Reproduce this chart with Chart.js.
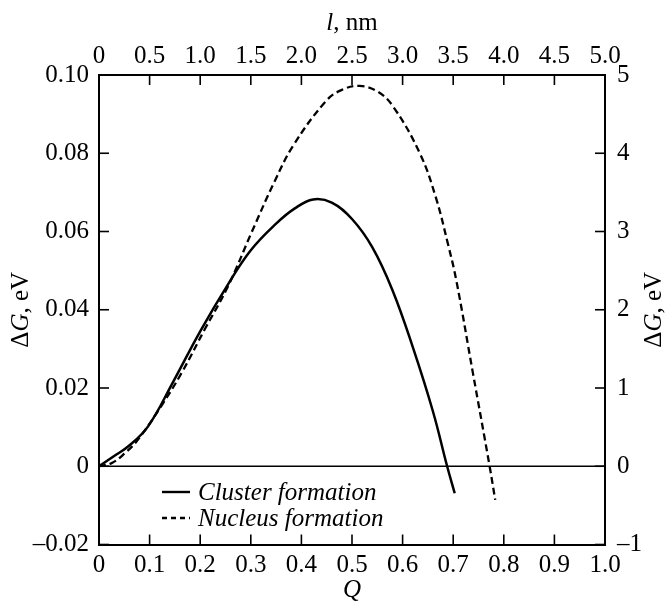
<!DOCTYPE html>
<html>
<head>
<meta charset="utf-8">
<script src="https://cdn.jsdelivr.net/npm/chart.js@4/dist/chart.umd.min.js"></script>
<style>
  html, body { margin: 0; padding: 0; background: #fff; }
  #wrap { width: 672px; height: 610px; position: relative; }
</style>
</head>
<body>
<div id="wrap"><canvas id="c"></canvas></div>
<script>
// ---- data ----
const clusterQ = [0, 0.03, 0.058, 0.097, 0.145, 0.20, 0.255, 0.30, 0.35, 0.387, 0.423, 0.46, 0.50, 0.54, 0.58, 0.62, 0.66, 0.688, 0.703];
const clusterG = [0, 0.0026, 0.0051, 0.0102, 0.0212, 0.0345, 0.0465, 0.0552, 0.0620, 0.0659, 0.0682, 0.0674, 0.0632, 0.0560, 0.0450, 0.0305, 0.0140, 0.0, -0.0069];
const nucleusQ = [0, 0.025, 0.05, 0.077, 0.123, 0.163, 0.209, 0.255, 0.301, 0.347, 0.384, 0.449, 0.48, 0.515, 0.55, 0.581, 0.634, 0.665, 0.69, 0.706, 0.739, 0.772, 0.783];
const nucleusG = [0, 0.04, 0.16, 0.34, 0.77, 1.19, 1.75, 2.30, 2.98, 3.64, 4.10, 4.67, 4.81, 4.86, 4.79, 4.60, 4.00, 3.45, 2.83, 2.38, 1.19, 0, -0.43];
const seriesLabels = ['Cluster formation', 'Nucleus formation'];
const qTickLabels = ['0', '0.1', '0.2', '0.3', '0.4', '0.5', '0.6', '0.7', '0.8', '0.9', '1.0'];
const lTickLabels = ['0', '0.5', '1.0', '1.5', '2.0', '2.5', '3.0', '3.5', '4.0', '4.5', '5.0'];
const gLeftTickLabels = ['\u20130.02', '0', '0.02', '0.04', '0.06', '0.08', '0.10'];
const gRightTickLabels = ['\u20131', '0', '1', '2', '3', '4', '5'];

const FONT = "'Liberation Serif', 'Times New Roman', serif";
Chart.defaults.font.family = FONT;
Chart.defaults.font.size = 25;
Chart.defaults.color = '#000';

function pts(xs, ys) { return xs.map((x, i) => ({ x: x, y: ys[i] })); }

function drawSegments(ctx, segs, cx, cy, size) {
  let total = 0;
  segs.forEach(s => {
    ctx.font = (s.i ? 'italic ' : '') + size + 'px ' + FONT;
    s.w = ctx.measureText(s.t).width; total += s.w;
  });
  let x = cx - total / 2;
  ctx.textAlign = 'left'; ctx.textBaseline = 'middle';
  segs.forEach(s => {
    ctx.font = (s.i ? 'italic ' : '') + size + 'px ' + FONT;
    ctx.fillText(s.t, x, cy); x += s.w;
  });
}

const decor = {
  id: 'decor',
  beforeDatasetsDraw(chart) {
    const ctx = chart.ctx, a = chart.chartArea;
    const y = chart.scales.y;
    ctx.save();
    ctx.strokeStyle = '#000'; ctx.lineWidth = 1.3;
    const y0 = y.getPixelForValue(0);
    ctx.beginPath(); ctx.moveTo(a.left, y0); ctx.lineTo(a.right, y0); ctx.stroke();
    // inward ticks
    const L = 10;
    ctx.lineWidth = 1.6;
    const sc = chart.scales;
    sc.x.ticks.forEach((t, i) => { const p = sc.x.getPixelForTick(i); ctx.beginPath(); ctx.moveTo(p, a.bottom); ctx.lineTo(p, a.bottom - L); ctx.stroke(); });
    sc.xTop.ticks.forEach((t, i) => { const p = sc.xTop.getPixelForTick(i); ctx.beginPath(); ctx.moveTo(p, a.top); ctx.lineTo(p, a.top + L); ctx.stroke(); });
    sc.y.ticks.forEach((t, i) => { const p = sc.y.getPixelForTick(i); ctx.beginPath(); ctx.moveTo(a.left, p); ctx.lineTo(a.left + L, p); ctx.stroke(); });
    sc.y2.ticks.forEach((t, i) => { const p = sc.y2.getPixelForTick(i); ctx.beginPath(); ctx.moveTo(a.right, p); ctx.lineTo(a.right - L, p); ctx.stroke(); });
    ctx.restore();
  },
  afterDraw(chart) {
    const ctx = chart.ctx, a = chart.chartArea;
    ctx.save();
    ctx.fillStyle = '#000';
    const cx = (a.left + a.right) / 2, cy = (a.top + a.bottom) / 2;
    drawSegments(ctx, [{ t: 'l', i: true }, { t: ', nm', i: false }], cx, 23, 25);
    drawSegments(ctx, [{ t: 'Q', i: true }], cx, 590, 25);
    const gSegs = () => [{ t: '\u0394', i: false }, { t: 'G', i: true }, { t: ', eV', i: false }];
    ctx.save(); ctx.translate(21, cy); ctx.rotate(-Math.PI / 2); drawSegments(ctx, gSegs(), 0, 0, 25); ctx.restore();
    ctx.save(); ctx.translate(654, cy); ctx.rotate(-Math.PI / 2); drawSegments(ctx, gSegs(), 0, 0, 25); ctx.restore();
    // legend
    const lx0 = a.left + 63, lx1 = a.left + 91, tx = a.left + 99;
    const rows = [{ y: 492, dash: [] }, { y: 518, dash: [5, 4] }];
    chart.data.datasets.forEach((ds, i) => {
      const r = rows[i];
      ctx.setLineDash(r.dash); ctx.lineWidth = 2.4; ctx.strokeStyle = '#000';
      ctx.beginPath(); ctx.moveTo(lx0, r.y); ctx.lineTo(lx1, r.y); ctx.stroke();
      ctx.setLineDash([]);
      ctx.font = 'italic 25px ' + FONT; ctx.textAlign = 'left'; ctx.textBaseline = 'middle';
      ctx.fillText(ds.label, tx, r.y + 1);
    });
    ctx.restore();
  }
};

const axisBase = {
  type: 'linear',
  grid: { display: true, drawOnChartArea: false, drawTicks: false },
  border: { display: true, color: '#000', width: 2 },
};

new Chart(document.getElementById('c'), {
  type: 'line',
  data: {
    datasets: [
      { label: seriesLabels[0], data: pts(clusterQ, clusterG), xAxisID: 'x', yAxisID: 'y',
        borderColor: '#000', borderWidth: 2.5, pointRadius: 0, tension: 0.4, fill: false },
      { label: seriesLabels[1], data: pts(nucleusQ, nucleusG), xAxisID: 'x', yAxisID: 'y2',
        borderColor: '#000', borderWidth: 2.3, borderDash: [7, 4], pointRadius: 0, tension: 0.4, fill: false }
    ]
  },
  options: {
    responsive: true, maintainAspectRatio: false, animation: false,
    layout: { padding: 0 },
    plugins: { legend: { display: false }, tooltip: { enabled: false } },
    scales: {
      x: Object.assign({}, axisBase, {
        position: 'bottom', min: 0, max: 1,
        ticks: { stepSize: 0.1, autoSkip: false, maxRotation: 0, padding: 6,
          callback: (v, i) => qTickLabels[i] },
        afterFit: s => { s.height = 65.5; }
      }),
      xTop: Object.assign({}, axisBase, {
        axis: 'x', position: 'top', min: 0, max: 5,
        ticks: { stepSize: 0.5, autoSkip: false, maxRotation: 0, padding: 4,
          callback: (v, i) => lTickLabels[i] },
        afterFit: s => { s.height = 75; }
      }),
      y: Object.assign({}, axisBase, {
        position: 'left', min: -0.02, max: 0.10,
        ticks: { stepSize: 0.02, autoSkip: false, padding: 10,
          callback: (v, i) => gLeftTickLabels[i] },
        afterFit: s => { s.width = 99; }
      }),
      y2: Object.assign({}, axisBase, {
        axis: 'y', position: 'right', min: -1, max: 5,
        ticks: { stepSize: 1, autoSkip: false, padding: 12,
          callback: (v, i) => gRightTickLabels[i] },
        afterFit: s => { s.width = 67; }
      })
    }
  },
  plugins: [decor]
});
</script>
</body>
</html>
